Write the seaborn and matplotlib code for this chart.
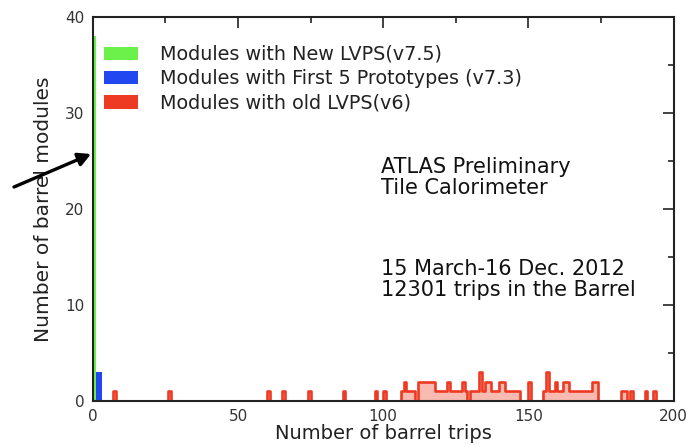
import numpy as np
import pandas as pd
import matplotlib
matplotlib.use("Agg")
import matplotlib.pyplot as plt
from matplotlib.patches import Patch
from matplotlib.colors import to_rgba
import seaborn as sns

# ---------------- data ----------------
green_trips = [0]
green_counts = [38]

blue_trips = [1, 2]
blue_counts = [3, 3]

red_trips = [7, 26, 60, 65, 74, 86, 97, 100,
             106, 107, 108, 109, 110, 112, 113, 114, 115, 116, 117, 118, 119,
             120, 121, 122, 123, 124, 125, 126, 127, 128, 130, 131, 132, 133,
             134, 135, 136, 137, 138, 139, 140, 141, 142, 143, 144, 145, 146,
             150, 155, 156, 157, 158, 159, 160, 161, 162, 163, 164, 165, 166,
             167, 168, 169, 170, 171, 172, 173, 182, 183, 185, 190, 193]
red_counts = [1, 1, 1, 1, 1, 1, 1, 1,
              1, 2, 1, 1, 1, 2, 2, 2, 2, 2, 2, 1, 1,
              1, 1, 2, 1, 1, 1, 1, 2, 1, 1, 1, 1, 3,
              1, 2, 2, 1, 1, 1, 2, 2, 1, 1, 1, 1, 1,
              2, 1, 3, 1, 1, 2, 1, 1, 2, 2, 1, 1, 1,
              1, 1, 1, 1, 1, 2, 2, 1, 1, 1, 1, 1]

legend_labels = ["Modules with New LVPS(v7.5)",
                 "Modules with First 5 Prototypes (v7.3)",
                 "Modules with old LVPS(v6)"]
x_label = "Number of barrel trips"
y_label = "Number of barrel modules"
text_top = "ATLAS Preliminary\nTile Calorimeter"
text_bottom = "15 March-16 Dec. 2012\n12301 trips in the Barrel"

GREEN = "#6cf04a"
BLUE = "#2047f0"
RED = "#ee3a22"

red_df = pd.DataFrame({"trips": red_trips, "count": red_counts})
blue_df = pd.DataFrame({"trips": blue_trips, "count": blue_counts})
green_df = pd.DataFrame({"trips": green_trips, "count": green_counts})

# ---------------- style ----------------
sns.set_style("white")
plt.rcParams["font.family"] = ["DejaVu Sans"]

fig = plt.figure(figsize=(6.88, 4.45), dpi=100)
ax = fig.add_axes([0.135, 0.099, 0.844, 0.863])

sns.histplot(data=red_df, x="trips", weights="count", binwidth=1,
             binrange=(0, 200), element="step", fill=True, color=RED,
             facecolor=to_rgba(RED, 0.35), linewidth=1.9, ax=ax)
sns.histplot(data=blue_df, x="trips", weights="count", binwidth=1,
             binrange=(0, 3), element="bars", fill=True, color=BLUE,
             alpha=1, linewidth=0, ax=ax)
sns.histplot(data=green_df, x="trips", weights="count", binwidth=1,
             binrange=(0, 1), element="bars", fill=True, color=GREEN,
             alpha=1, linewidth=0, ax=ax)

ax.set_xlim(0, 200)
ax.set_ylim(0, 40)
ax.set_xticks([0, 50, 100, 150, 200])
ax.set_xticks([25, 75, 125, 175], minor=True)
ax.set_yticks([0, 10, 20, 30, 40])
ax.set_yticks([5, 15, 25, 35], minor=True)

for s in ax.spines.values():
    s.set_linewidth(1.5)
    s.set_color("#222222")
    s.set_zorder(5)

ax.tick_params(which="both", direction="in", top=True, right=True,
               color="#222222", width=1.2)
ax.tick_params(which="major", length=8, labelsize=11, labelcolor="#333333",
               pad=6)
ax.tick_params(which="minor", length=4.5)

ax.set_xlabel(x_label, fontsize=14, color="#222222", labelpad=0)
ax.set_ylabel(y_label, fontsize=14.5, color="#222222", labelpad=9)

handles = [Patch(facecolor=GREEN, edgecolor="none"),
           Patch(facecolor=BLUE, edgecolor="none"),
           Patch(facecolor=RED, edgecolor="none")]
leg = ax.legend(handles, legend_labels, loc="upper left",
                bbox_to_anchor=(0.02, 0.927), frameon=False, fontsize=13.8,
                handlelength=1.75, handleheight=0.7, handletextpad=1.15,
                labelspacing=0.28, borderpad=0, borderaxespad=0)
for t in leg.get_texts():
    t.set_color("#222222")

ax.text(0.496, 0.635, text_top, transform=ax.transAxes, fontsize=15,
        va="top", ha="left", color="#111111", linespacing=1.05)
ax.text(0.497, 0.37, text_bottom, transform=ax.transAxes, fontsize=15,
        va="top", ha="left", color="#111111", linespacing=1.05)

ax.annotate("", xy=(91, 291), xycoords="figure pixels",
            xytext=(14, 258), textcoords="figure pixels",
            arrowprops=dict(arrowstyle="-|>,head_length=0.75,head_width=0.4",
                            color="black", lw=2.4, shrinkA=0, shrinkB=0),
            annotation_clip=False)

fig.savefig("out.png", dpi=100)
